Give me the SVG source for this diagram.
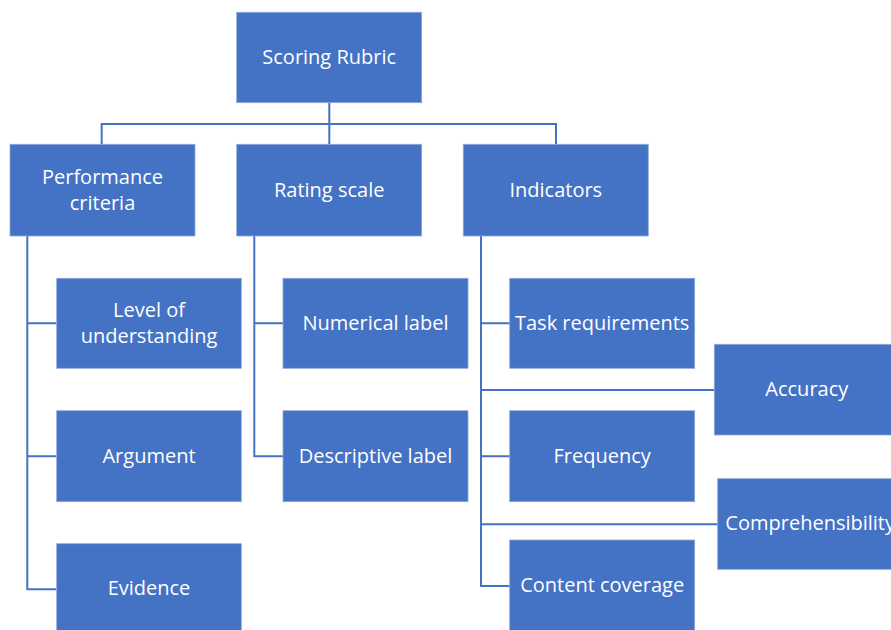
<svg xmlns="http://www.w3.org/2000/svg" width="891" height="630" viewBox="0 0 891 630">
<style>
.box{fill:#4472C4;stroke:#8FAADC;stroke-width:0.8}
.t{font-family:"Open Sans","Noto Sans",sans-serif;font-size:20px;fill:#ffffff;text-anchor:middle;dominant-baseline:central}
.c{fill:none;stroke:#4472C4;stroke-width:2}
</style>
<rect width="891" height="630" fill="#ffffff"/>
<g id="connectors">
<path class="c" d="M329.3,102.7V144.3M101.7,144.3V124H556V144.3"/>
<path class="c" d="M27.3,236V589.3H56.7M27.3,323.3H56.7M27.3,456.3H56.7"/>
<path class="c" d="M254.3,236V456.3H283M254.3,323.3H283"/>
<path class="c" d="M481,236V586H509.7M481,323.3H509.7M481,456.3H509.7M481,390H714.3M481,524.3H717.7"/>
</g>
<g id="root"><rect class="box" x="236.7" y="12.3" width="185" height="90.4"/><text class="t" x="329.2" y="56">Scoring Rubric</text></g>
<g id="perf"><rect class="box" x="10" y="144.3" width="185" height="91.7"/><text class="t" x="102.5" y="176.5">Performance</text><text class="t" x="102.5" y="202">criteria</text></g>
<g id="rating"><rect class="box" x="236.7" y="144.3" width="185" height="91.7"/><text class="t" x="329.2" y="189.5">Rating scale</text></g>
<g id="indicators"><rect class="box" x="463.3" y="144.3" width="185" height="91.7"/><text class="t" x="555.8" y="189.5">Indicators</text></g>
<g id="level"><rect class="box" x="56.7" y="278.3" width="184.6" height="90"/><text class="t" x="149" y="309.5">Level of</text><text class="t" x="149" y="335">understanding</text></g>
<g id="argument"><rect class="box" x="56.7" y="410.7" width="184.6" height="91"/><text class="t" x="149" y="455.5">Argument</text></g>
<g id="evidence"><rect class="box" x="56.7" y="543.7" width="184.6" height="90"/><text class="t" x="149" y="587.5">Evidence</text></g>
<g id="numerical"><rect class="box" x="283" y="278.3" width="185" height="90"/><text class="t" x="375.5" y="322">Numerical label</text></g>
<g id="descriptive"><rect class="box" x="283" y="410.7" width="185" height="91"/><text class="t" x="375.5" y="455.5">Descriptive label</text></g>
<g id="task"><rect class="box" x="509.7" y="278.3" width="185" height="90"/><text class="t" x="602.2" y="322">Task requirements</text></g>
<g id="accuracy"><rect class="box" x="714.3" y="344.3" width="185" height="90.7"/><text class="t" x="806.8" y="388.5">Accuracy</text></g>
<g id="frequency"><rect class="box" x="509.7" y="410.7" width="185" height="91"/><text class="t" x="602.2" y="455.5">Frequency</text></g>
<g id="comprehensibility"><rect class="box" x="717.7" y="478.7" width="185" height="90.6"/><text class="t" x="810.2" y="522.5">Comprehensibility</text></g>
<g id="content"><rect class="box" x="509.7" y="540" width="185" height="95"/><text class="t" x="602.2" y="584.5">Content coverage</text></g>
</svg>
